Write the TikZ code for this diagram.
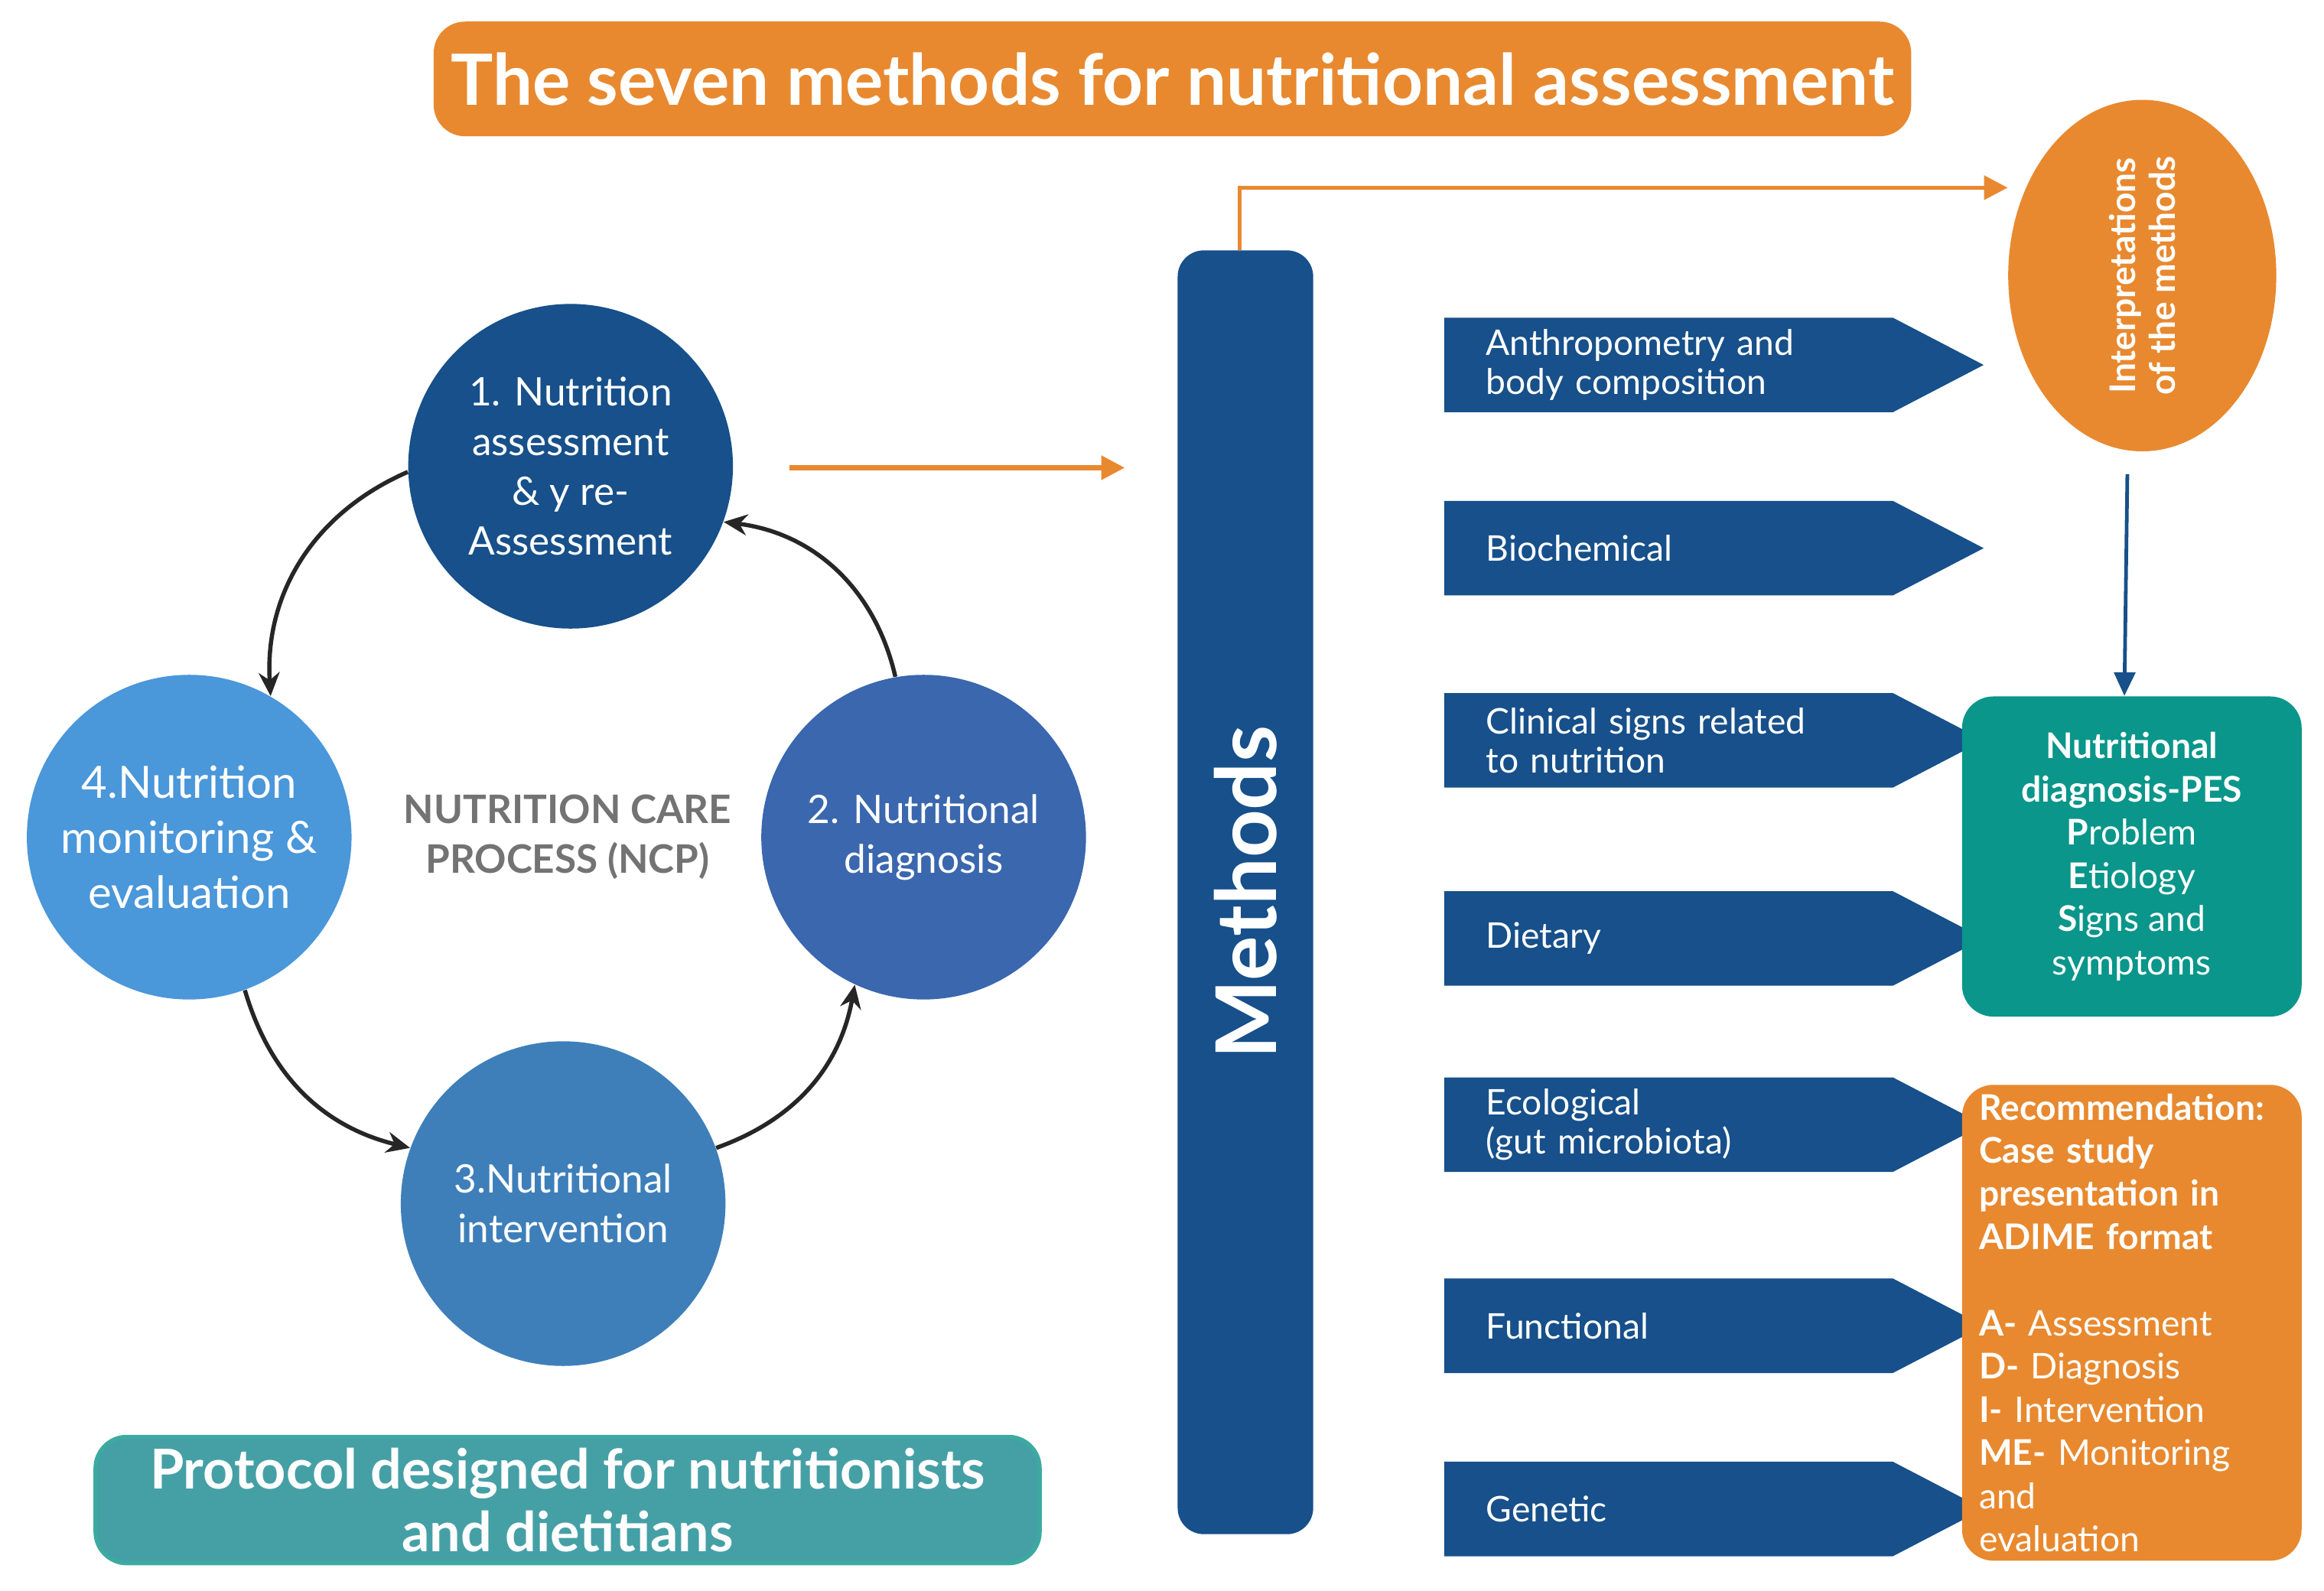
\documentclass[tikz,border=0pt]{standalone}
\usepackage{fontspec}
\setmainfont{Lato}
\usetikzlibrary{shapes.symbols,shapes.geometric,arrows.meta,positioning}
\definecolor{navy}{HTML}{17508A}
\definecolor{midblue}{HTML}{3A67AE}
\definecolor{steel}{HTML}{3E7FBA}
\definecolor{sky}{HTML}{4A97DA}
\definecolor{ornge}{HTML}{E8892F}
\definecolor{teal}{HTML}{0A968A}
\definecolor{softteal}{HTML}{45A0A6}
\tikzset{
  ncpstep/.style={circle,minimum size=4.36cm,text=white,align=center,font=\fontsize{15}{19}\selectfont},
  method/.style={signal,signal to=east,signal pointer angle=55,fill=navy,text=white,
    minimum width=6.55cm,minimum height=1.27cm,inner xsep=16pt,
    font=\fontsize{13.5}{15}\selectfont,align=left,text width=4.9cm},
  cyc/.style={-{Stealth[length=9pt,width=8pt]},line width=1.6pt,black!85},
}
\begin{document}
\begin{tikzpicture}[x=0.02cm,y=-0.02cm]
\useasboundingbox (0,0) rectangle (1560,1068);
% title
\node[fill=ornge,rounded corners=12pt,minimum width=19.84cm,minimum height=1.54cm,
  text=white,font=\fontsize{27}{30}\bfseries\selectfont] (title) at (787,53)
  {The seven methods for nutritional assessment};
% care process cycle
\node[ncpstep,fill=navy] (s1) at (383,313) {1. Nutrition\\assessment\\\& y re-\\Assessment};
\node[ncpstep,fill=midblue] (s2) at (620,562) {2. Nutritional\\diagnosis};
\node[ncpstep,fill=steel] (s3) at (378,808) {3.Nutritional\\intervention};
\node[ncpstep,fill=sky,font=\fontsize{17}{21}\selectfont] (s4) at (127,562) {4.Nutrition\\monitoring \&\\evaluation};
\node[text=black!55,align=center,font=\fontsize{15}{19}\bfseries\selectfont] (ncp) at (381,562)
  {NUTRITION CARE\\PROCESS (NCP)};
\draw[cyc] (s1.182) to[bend right=35] (s4.60);
\draw[cyc] (s4.-70) to[bend right=30] (s3.160);
\draw[cyc] (s3.20) to[bend right=30] (s2.-115);
\draw[cyc] (s2.100) to[bend right=35] (s1.-20);
\coordinate (fromS) at (530,314);
\coordinate (toM) at (755,314);
\draw[-{Triangle[length=9pt,width=9pt]},ornge,line width=1.8pt] (fromS) -- (toM);
% methods bar
\node[fill=navy,rounded corners=10pt,minimum width=1.82cm,minimum height=17.24cm] (bar) at (836,599) {};
\node[rotate=90,text=white,font=\fontsize{32}{34}\bfseries\selectfont] (bartext) at (bar.center) {Methods};
\node[ellipse,fill=ornge,minimum width=3.6cm,minimum height=4.72cm] (interp) at (1438,185) {};
\node[rotate=90,text=white,align=center,font=\fontsize{13.5}{15}\bfseries\selectfont] at (interp.center)
  {Interpretations\\of the methods};
\draw[-{Triangle[length=9pt,width=9pt]},ornge,line width=1.6pt] (bar.north -| 832,0) |- (interp.west |- 0,126);
% methods
\node[method] (m1) at (1120,245) {Anthropometry and\\body composition};
\node[method] (m2) at (1120,368) {Biochemical};
\node[method] (m3) at (1120,497) {Clinical signs related\\ to nutrition};
\node[method] (m4) at (1120,630) {Dietary};
\node[method] (m5) at (1120,755) {Ecological\\(gut microbiota)};
\node[method] (m6) at (1120,890) {Functional};
\node[method] (m7) at (1120,1013) {Genetic};
% result boxes
\node[fill=teal,rounded corners=12pt,minimum width=4.56cm,minimum height=4.3cm,text=white,
  align=center,font=\fontsize{13.5}{16.5}\selectfont] (pes) at (1431,575)
  {\textbf{Nutritional}\\\textbf{diagnosis-PES}\\\textbf{P}roblem\\\textbf{E}tiology\\\textbf{S}igns and\\symptoms};
\draw[-{Triangle[length=9pt,width=8pt]},navy,line width=1.4pt] (interp.south) ++(-10,15) -- (pes.north -| 1426,0);
\node[fill=ornge,rounded corners=12pt,minimum width=4.56cm,minimum height=6.26cm,text=white,
  align=left,text width=4.1cm,font=\fontsize{13.5}{16.5}\selectfont] (adime) at (1431,888)
  {\textbf{Recommendation:}\\\textbf{Case study}\\\textbf{presentation in}\\\textbf{ADIME format}\\[16.5pt]
   \textbf{A-} Assessment\\\textbf{D-} Diagnosis\\\textbf{I-} Intervention\\\textbf{ME-} Monitoring and\\evaluation};
% protocol
\node[fill=softteal,draw=teal!80,line width=1.5pt,rounded corners=12pt,minimum width=12.68cm,
  minimum height=1.7cm,text=white,align=center,font=\fontsize{21}{24}\bfseries\selectfont] (proto) at (381,1007)
  {Protocol designed for nutritionists\\and dietitians};
\end{tikzpicture}
\end{document}
